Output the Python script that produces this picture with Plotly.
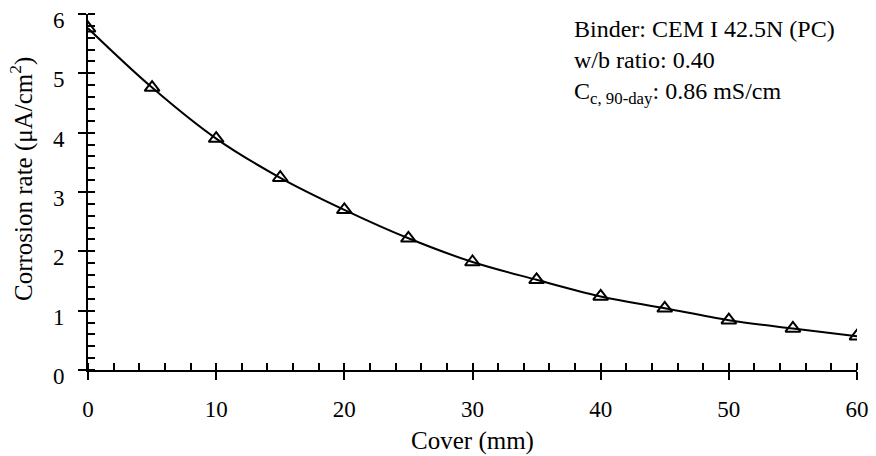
import plotly.graph_objects as go

# Corrosion rate of steel versus concrete cover depth
cover_mm = [0, 5, 10, 15, 20, 25, 30, 35, 40, 45, 50, 55, 60]
corrosion_rate = [5.76, 4.76, 3.90, 3.24, 2.70, 2.22, 1.82, 1.52, 1.24, 1.04, 0.84, 0.70, 0.57]

x_title = "Cover (mm)"
y_title = "Corrosion rate (\u03bcA/cm<sup>2</sup>)"
info_lines = [
    "Binder: CEM I 42.5N (PC)",
    "w/b ratio: 0.40",
    "C<sub>c, 90-day</sub>: 0.86 mS/cm",
]

FONT = "Liberation Serif, Times New Roman, serif"
FS = 24
TITLE_FS = 25
TICK_FS = 23

fig = go.Figure()

# smooth trend line through the measurements
fig.add_trace(go.Scatter(
    x=cover_mm, y=corrosion_rate, mode="lines",
    line=dict(color="black", width=2, shape="spline", smoothing=1.0),
    hoverinfo="skip", showlegend=False,
))
# measured points
fig.add_trace(go.Scatter(
    x=cover_mm, y=corrosion_rate, mode="markers",
    marker=dict(symbol="triangle-up-open", size=13, color="black",
                line=dict(color="black", width=2)),
    showlegend=False,
))

axis_common = dict(
    showline=True, linecolor="black", linewidth=2,
    showgrid=False, zeroline=False, automargin=False,
    tickcolor="black", tickwidth=2,
    tickfont=dict(family=FONT, size=TICK_FS, color="black"),
)

fig.update_layout(
    width=876, height=456,
    margin=dict(l=88, r=19, t=14, b=86),
    paper_bgcolor="white", plot_bgcolor="white",
    font=dict(family=FONT, size=FS, color="black"),
    xaxis=dict(
        range=[0, 60], dtick=10, tick0=0,
        ticks="outside", ticklen=8,
        minor=dict(dtick=2, ticks="inside", ticklen=7, tickwidth=2, tickcolor="black"),
        title=dict(text=x_title, font=dict(family=FONT, size=TITLE_FS), standoff=11),
        ticklabelstandoff=9,
        **axis_common,
    ),
    yaxis=dict(
        range=[0, 6], dtick=1, tick0=0,
        ticks="outside", ticklen=8,
        minor=dict(dtick=0.2, ticks="inside", ticklen=7, tickwidth=2, tickcolor="black"),
        ticklabelstandoff=9,
        ticklabelshift=6,
        **axis_common,
    ),
    # inner half of the major ticks
    xaxis2=dict(
        overlaying="x", anchor="y", range=[0, 60], dtick=10, tick0=0,
        ticks="inside", ticklen=7, tickwidth=2, tickcolor="black",
        showticklabels=False, showline=False, showgrid=False, zeroline=False,
    ),
    yaxis2=dict(
        overlaying="y", anchor="x", range=[0, 6], dtick=1, tick0=0,
        ticks="inside", ticklen=7, tickwidth=2, tickcolor="black",
        showticklabels=False, showline=False, showgrid=False, zeroline=False,
    ),
)

# invisible helper trace so the overlay axes are drawn
fig.add_trace(go.Scatter(x=[None], y=[None], xaxis="x2", yaxis="y2",
                         showlegend=False, hoverinfo="skip"))

# vertical y-axis title
fig.add_annotation(
    text=y_title, xref="paper", yref="paper", x=0, y=0.5,
    xshift=-67, yshift=13, textangle=-90,
    xanchor="center", yanchor="middle", showarrow=False,
    font=dict(family=FONT, size=TITLE_FS, color="black"),
)

info_y = [0.958, 0.871, 0.778]
for text, yy in zip(info_lines, info_y):
    fig.add_annotation(
        text=text, xref="paper", yref="paper", x=0.630, y=yy,
        xanchor="left", yanchor="middle", showarrow=False,
        font=dict(family=FONT, size=FS, color="black"),
    )

fig.write_html("out.html")
